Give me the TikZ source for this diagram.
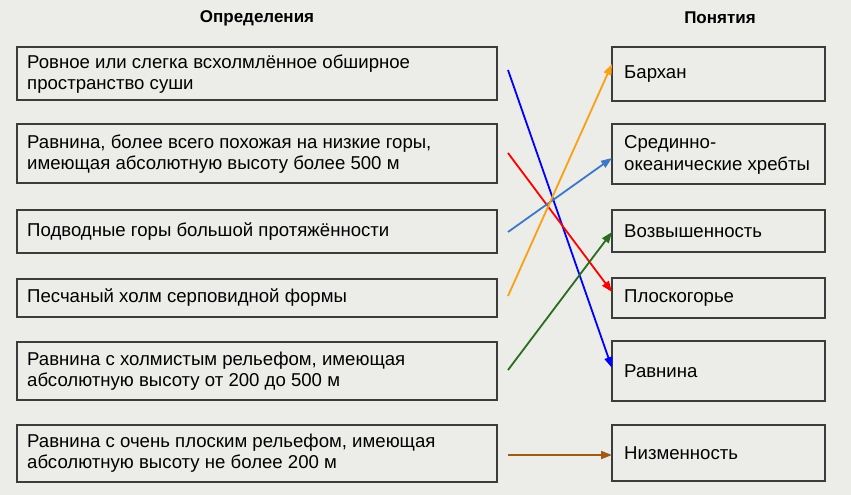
\documentclass[tikz,border=0pt]{standalone}
\usepackage{fontspec}
\setmainfont{Liberation Sans}
\usetikzlibrary{arrows.meta}
\definecolor{bg}{RGB}{236,236,233}
\definecolor{bx}{RGB}{60,60,60}
\begin{document}
\begin{tikzpicture}[x=1pt,y=-1pt,
  box/.style={draw=bx,line width=1.2pt},
  txt/.style={anchor=west,align=left,font=\fontsize{18.6}{21.5}\selectfont,inner sep=0},
  hd/.style={font=\fontsize{17}{20}\selectfont\bfseries},
  con/.style={line width=1.8pt,-{Triangle[length=11pt,width=8pt]}}]
\fill[bg] (0,0) rectangle (851,495);
\useasboundingbox (0,0) rectangle (851,495);
\node[hd] (h1) at (257,18) {Определения};
\node[hd] (h2) at (720,18) {Понятия};
\foreach \a/\b in {47/100,124/183,210/253,279/317,342/400,425/482}
  \draw[box] (17,\a) rectangle (497,\b);
\foreach \a/\b in {47/101,124/184,210/252,278/318,341/401,425/481}
  \draw[box] (612,\a) rectangle (825,\b);
\node[txt] (t1) at (27,74) {Ровное или слегка всхолмлённое обширное\\пространство суши};
\node[txt] (t2) at (27,154) {Равнина, более всего похожая на низкие горы,\\имеющая абсолютную высоту более 500 м};
\node[txt] (t3) at (27,232) {Подводные горы большой протяжённости};
\node[txt] (t4) at (27,298) {Песчаный холм серповидной формы};
\node[txt] (t5) at (27,371) {Равнина с холмистым рельефом, имеющая\\абсолютную высоту от 200 до 500 м};
\node[txt] (t6) at (27,453) {Равнина с очень плоским рельефом, имеющая\\абсолютную высоту не более 200 м};
\node[txt] (c1) at (624,74) {Бархан};
\node[txt] (c2) at (624,155) {Срединно-\\океанические хребты};
\node[txt] (c3) at (624,231) {Возвышенность};
\node[txt] (c4) at (624,298) {Плоскогорье};
\node[txt] (c5) at (624,371) {Равнина};
\node[txt] (c6) at (624,453) {Низменность};
\coordinate (a1) at (508,70); \coordinate (b5) at (612,368);
\coordinate (a2) at (508,153); \coordinate (b4) at (612,292);
\coordinate (a3) at (508,232); \coordinate (b2) at (612,158);
\coordinate (a4) at (508,296); \coordinate (b1) at (612,64);
\coordinate (a5) at (508,370); \coordinate (b3) at (612,232);
\coordinate (a6) at (508,455); \coordinate (b6) at (612,455);
\draw[con,blue] (a1) -- (b5);
\draw[con,red] (a2) -- (b4);
\draw[con,color={rgb,255:red,60;green,120;blue,200}] (a3) -- (b2);
\draw[con,color={rgb,255:red,250;green,160;blue,20}] (a4) -- (b1);
\draw[con,color={rgb,255:red,40;green,110;blue,30}] (a5) -- (b3);
\draw[con,color={rgb,255:red,160;green,90;blue,20}] (a6) -- (b6);
\end{tikzpicture}
\end{document}
